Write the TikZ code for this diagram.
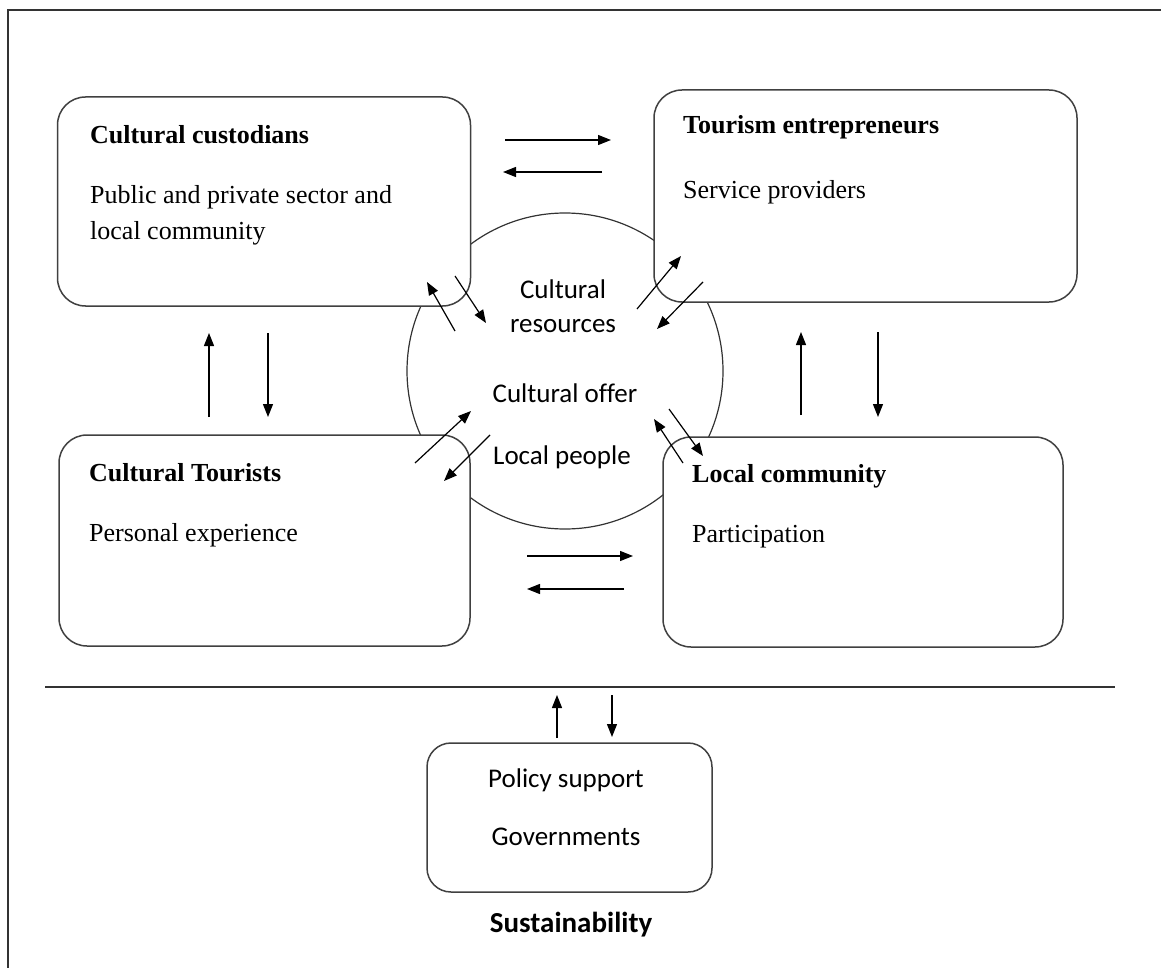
\documentclass[tikz,border=0pt]{standalone}
\usepackage{fontspec}
\setmainfont{Liberation Serif}
\newfontfamily\calfont[Ligatures=NoCommon]{Carlito}
\usetikzlibrary{arrows.meta}

\tikzset{
	box/.style={draw=black!75, line width=1.5pt, fill=white, rounded corners=28pt, inner sep=0pt},
	title/.style={anchor=west, inner sep=0pt, font=\fontsize{26}{30}\selectfont\bfseries},
	body/.style={anchor=west, inner sep=0pt, font=\fontsize{26}{30}\selectfont},
	inner/.style={inner sep=0pt, font=\calfont\fontsize{27}{31}\selectfont},
	flow/.style={line width=1.2pt, -{Triangle[length=13pt,width=10pt]}}
}

\begin{document}
\begin{tikzpicture}[x=1pt,y=-1pt]
	\useasboundingbox (0,0) rectangle (1161,968);
	\draw[line width=1.4pt,black!80] (8,968) -- (8,10) -- (1161,10);

	% centre circle, boxes are laid on top of it
	\node[draw=black!80, line width=1.2pt, circle, minimum size=316pt, inner sep=0pt] (offer) at (565,371) {};
	\node[inner] (res1) at (563,289) {Cultural};
	\node[inner] (res2) at (563,326) {resources};
	\node[inner] (off) at (565,393) {Cultural offer};
	\node[inner] (ppl) at (562,457) {Local people};

	\node[box, minimum width=413pt, minimum height=209pt] (cust) at (264,201.5) {};
	\node[box, minimum width=423pt, minimum height=212pt] (entr) at (865.5,196) {};
	\node[box, minimum width=411pt, minimum height=211pt] (tour) at (264.5,540.5) {};
	\node[box, minimum width=400pt, minimum height=210pt] (comm) at (863,542) {};
	\node[box, rounded corners=24pt, minimum width=285pt, minimum height=149pt] (pol) at (569.5,817.5) {};

	\node[title] (custT) at (90,135) {Cultural custodians};
	\node[body] (custA) at (90,197) {Public and private sector and};
	\node[body] (custB) at (90,233) {local community};
	\node[title] (entrT) at (683,127) {Tourism entrepreneurs};
	\node[body] (entrA) at (683,192) {Service providers};
	\node[title] (tourT) at (89,473) {Cultural Tourists};
	\node[body] (tourA) at (89,535) {Personal experience};
	\node[title] (commT) at (692,476) {Local community};
	\node[body] (commA) at (692,537) {Participation};
	\node[inner] (polA) at (566,780) {Policy support};
	\node[inner] (polB) at (566,837) {Governments};
	\node[inner, font=\calfont\bfseries\fontsize{29}{33}\selectfont] (sust) at (571,925) {Sustainability};

	% separator
	\coordinate (sepL) at (45,687);
	\coordinate (sepR) at (1115,687);
	\draw[line width=1.4pt,black!80] (sepL) -- (sepR);

	% arrow ends
	\coordinate (a1) at (505,140);  \coordinate (b1) at (611,140);
	\coordinate (a2) at (602,172);  \coordinate (b2) at (503,172);
	\coordinate (a3) at (527,556);  \coordinate (b3) at (633,556);
	\coordinate (a4) at (624,589);  \coordinate (b4) at (527,589);
	\coordinate (a5) at (209,417);  \coordinate (b5) at (209,333);
	\coordinate (a6) at (268,333);  \coordinate (b6) at (268,417);
	\coordinate (a7) at (801,415);  \coordinate (b7) at (801,332);
	\coordinate (a8) at (878,332);  \coordinate (b8) at (878,417);
	\coordinate (a9) at (557,738);  \coordinate (b9) at (557,695);
	\coordinate (a10) at (612,695); \coordinate (b10) at (612,737);

	\coordinate (c1) at (455,331);  \coordinate (d1) at (427,282);
	\coordinate (c2) at (455,276);  \coordinate (d2) at (486,323);
	\coordinate (c3) at (637,309);  \coordinate (d3) at (681,256);
	\coordinate (c4) at (703,282);  \coordinate (d4) at (657,329);
	\coordinate (c5) at (415,463);  \coordinate (d5) at (471,411);
	\coordinate (c6) at (490,435);  \coordinate (d6) at (444,481);
	\coordinate (c7) at (683,463);  \coordinate (d7) at (654,419);
	\coordinate (c8) at (669,409);  \coordinate (d8) at (703,456);

	\draw[flow] (a1) -- (b1);
	\draw[flow] (a2) -- (b2);
	\draw[flow] (a3) -- (b3);
	\draw[flow] (a4) -- (b4);
	\draw[flow] (a5) -- (b5);
	\draw[flow] (a6) -- (b6);
	\draw[flow] (a7) -- (b7);
	\draw[flow] (a8) -- (b8);
	\draw[flow] (a9) -- (b9);
	\draw[flow] (a10) -- (b10);

	\draw[flow] (c1) -- (d1);
	\draw[flow] (c2) -- (d2);
	\draw[flow] (c3) -- (d3);
	\draw[flow] (c4) -- (d4);
	\draw[flow] (c5) -- (d5);
	\draw[flow] (c6) -- (d6);
	\draw[flow] (c7) -- (d7);
	\draw[flow] (c8) -- (d8);
\end{tikzpicture}
\end{document}
